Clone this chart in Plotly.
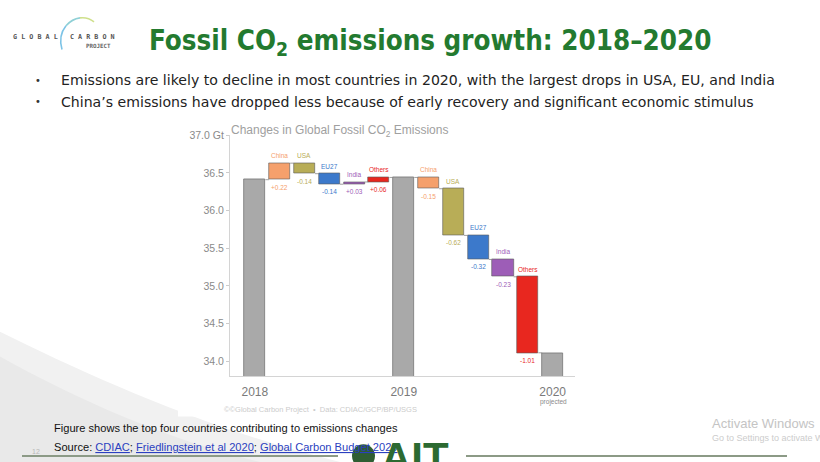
import plotly.graph_objects as go

# ---------------- data ----------------
countries = ["China", "USA", "EU27", "India", "Others"]
country_colors = ["#f5a06c", "#b8ad57", "#3c79cb", "#9d5db7", "#e8271f"]
total_color = "#a9a9a9"
year_labels = ["2018", "2019", "2020"]
emissions_2018 = 36.41
changes_2019 = [0.22, -0.14, -0.14, 0.03, 0.06]
changes_2020 = [-0.15, -0.62, -0.32, -0.23, -1.01]
y_tickvals = [34.0, 34.5, 35.0, 35.5, 36.0, 36.5, 37.0]
y_ticktext = ["34.0", "34.5", "35.0", "35.5", "36.0", "36.5", "37.0 Gt"]

W, H = 820, 462


def px(x):
    return x / W


def py(y):
    return 1 - y / H


def P(x, y):
    return f"{px(x):.5f},{py(y):.5f}"


CH_FONT = "Liberation Sans, Arial, sans-serif"
SL_FONT = "DejaVu Sans Condensed, DejaVu Sans, sans-serif"
BL_FONT = "DejaVu Sans, sans-serif"
FN_FONT = "Liberation Sans Narrow, Liberation Sans, sans-serif"

# ---------------- build waterfall ----------------
tot_x = [0]
tot_y = [emissions_2018]
bx, bbase, bh, bcol = [], [], [], []
conn_x, conn_y = [], []
label_ann = []
level = emissions_2018
pos = 0
for changes in (changes_2019, changes_2020):
    for name, col, d in zip(countries, country_colors, changes):
        pos += 1
        conn_x += [pos - 1 + 0.425, pos - 0.425, None]
        conn_y += [level, level, None]
        bx.append(pos)
        bbase.append(level)
        bh.append(d)
        bcol.append(col)
        top = max(level, level + d)
        bot = min(level, level + d)
        label_ann.append(dict(x=pos, y=top, text=name, yanchor="bottom", yshift=2, col=col))
        label_ann.append(dict(x=pos, y=bot, text=f"{d:+.2f}", yanchor="top", yshift=-2, col=col))
        level += d
    pos += 1
    conn_x += [pos - 1 + 0.425, pos - 0.425, None]
    conn_y += [level, level, None]
    tot_x.append(pos)
    tot_y.append(level)

fig = go.Figure()
fig.add_trace(go.Scatter(x=conn_x, y=conn_y, mode="lines",
                         line=dict(color="#8a8a8a", width=0.8),
                         hoverinfo="skip", showlegend=False))
fig.add_trace(go.Bar(x=tot_x, y=tot_y, width=0.85,
                     marker=dict(color=total_color, line=dict(color="#6a6a6a", width=0.7)),
                     showlegend=False))
fig.add_trace(go.Bar(x=bx, y=bh, base=bbase, width=0.85,
                     marker=dict(color=bcol, line=dict(color="#5a5a5a", width=0.6)),
                     showlegend=False))

annotations = []
for a in label_ann:
    annotations.append(dict(x=a["x"], y=a["y"], xref="x", yref="y", text=a["text"],
                            showarrow=False, yanchor=a["yanchor"], yshift=a["yshift"],
                            font=dict(family=CH_FONT, size=6.5, color=a["col"])))

fig.update_layout(
    width=W, height=H, autosize=False,
    margin=dict(l=0, r=0, t=0, b=0),
    paper_bgcolor="white", plot_bgcolor="white",
    barmode="overlay", bargap=0,
    xaxis=dict(domain=[px(230), px(575)], range=[-1.0, 12.9],
               tickvals=tot_x, ticktext=year_labels,
               tickfont=dict(family=CH_FONT, size=12, color="#7a7a7a"),
               showgrid=False, zeroline=False, showline=True, linecolor="#d4d4d4",
               linewidth=1, ticks="", ticklabelstandoff=4),
    yaxis=dict(domain=[py(375), py(131)], range=[33.8, 37.0],
               tickvals=y_tickvals, ticktext=y_ticktext,
               tickfont=dict(family=CH_FONT, size=10.5, color="#8a8a8a"),
               showgrid=False, zeroline=False, showline=True, linecolor="#d4d4d4",
               linewidth=1, ticks="outside", ticklen=3, tickcolor="#cccccc"),
)

# ---------------- slide decorations ----------------
shapes = []
# grey wave bottom-left
shapes.append(dict(type="path", xref="paper", yref="paper", layer="below",
                   path=f"M {P(0,330)} C {P(90,375)} {P(210,430)} {P(340,462)} L {P(0,462)} Z",
                   fillcolor="#f1f1f1", line=dict(width=0)))
shapes.append(dict(type="path", xref="paper", yref="paper", layer="below",
                   path=f"M {P(0,355)} C {P(80,400)} {P(170,440)} {P(260,462)} L {P(0,462)} Z",
                   fillcolor="#e9e9e9", line=dict(width=0)))
# white chart image background
shapes.append(dict(type="rect", xref="paper", yref="paper", layer="below",
                   x0=px(178), x1=px(582), y0=py(416), y1=py(116),
                   fillcolor="white", line=dict(width=0)))
# bottom lines
shapes.append(dict(type="line", xref="paper", yref="paper", x0=px(22), x1=px(338),
                   y0=py(456), y1=py(456), line=dict(color="#8c9a86", width=2)))
shapes.append(dict(type="line", xref="paper", yref="paper", x0=px(466), x1=px(787),
                   y0=py(456), y1=py(456), line=dict(color="#8c9a86", width=2)))
# AIT globe icon
shapes.append(dict(type="circle", xref="paper", yref="paper", x0=px(352), x1=px(375),
                   y0=py(468), y1=py(444), fillcolor="#2f5e33", line=dict(width=0)))
# logo arc
arc_segments = [
    ((62, 44), (58, 30), (66, 20), "#7cc3e6"),
    ((66, 20), (72, 13), (80, 12), "#8fd0d6"),
    ((80, 12), (88, 11), (94, 16), "#cfe08c"),
]
for (a, c, b, col) in arc_segments:
    shapes.append(dict(type="path", xref="paper", yref="paper",
                       path=f"M {P(*a)} Q {P(*c)} {P(*b)}",
                       line=dict(color=col, width=1.6)))
fig.update_layout(shapes=shapes)


def text(x, y, s, size, color, family, xanchor="left", yanchor="middle"):
    annotations.append(dict(x=px(x), y=py(y), xref="paper", yref="paper", text=s,
                            showarrow=False, xanchor=xanchor, yanchor=yanchor,
                            font=dict(family=family, size=size, color=color)))


# title + logo
text(430, 37, "<b>Fossil CO<sub>2</sub> emissions growth: 2018–2020</b>", 27.5, "#237a2f", SL_FONT, "center")
text(11, 31, "<b>G L O B A L   C A R B O N</b>", 6.75, "#555555", "DejaVu Sans Mono, monospace")
text(84, 41, "<b>PROJECT</b>", 5.8, "#666666", "DejaVu Sans Mono, monospace")

# bullets
bullets = [
    "Emissions are likely to decline in most countries in 2020, with the largest drops in USA, EU, and India",
    "China’s emissions have dropped less because of early recovery and significant economic stimulus",
]
for i, b in enumerate(bullets):
    yy = 75 + 22 * i
    text(33, yy, "•", 11, "#333333", SL_FONT)
    text(59, yy, b, 14.1, "#222222", BL_FONT)

# chart texts
text(229, 127, "Changes in Global Fossil CO<sub>2</sub> Emissions", 12, "#a0a0a0", CH_FONT)
text(553, 401, "projected", 6.5, "#8a8a8a", CH_FONT, "center")
text(320, 409, "©©Global Carbon Project  •  Data: CDIAC/GCP/BP/USGS", 7.5, "#cccccc", CH_FONT, "center")

# footnote
text(52, 428, "Figure shows the top four countries contributing to emissions changes", 11.1, "#111111", FN_FONT)
link = "#2b3fc0"
text(52, 447,
     "Source: "
     f"<span style='color:{link}'><u>CDIAC</u></span>; "
     f"<span style='color:{link}'><u>Friedlingstein et al 2020</u></span>; "
     f"<span style='color:{link}'><u>Global Carbon Budget 2020</u></span>",
     11.1, "#111111", FN_FONT)
text(30, 451, "12", 7, "#b8b8b8", CH_FONT)

# AIT logo text
text(379, 432, "<b>AIT</b>", 42, "#2c6a31", CH_FONT, "left", "top")

# watermark
text(710, 423, "Activate Windows", 13, "#c4c4c4", FN_FONT)
text(710, 438, "Go to Settings to activate Windows.", 9, "#cccccc", FN_FONT)

fig.update_layout(annotations=annotations)
fig.write_html("out.html")
